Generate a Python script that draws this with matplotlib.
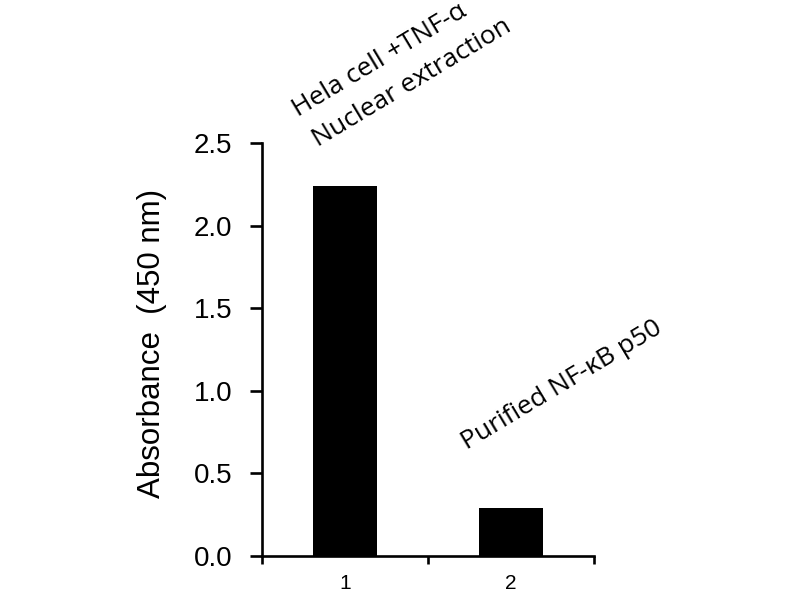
import matplotlib.pyplot as plt

categories = ['1', '2']
absorbance = [2.24, 0.29]
yticks = [0.0, 0.5, 1.0, 1.5, 2.0, 2.5]
sample_labels = ['Hela cell +TNF-\u03b1', 'Nuclear extraction', 'Purified NF-\u03baB p50']

plt.rcParams['font.family'] = ['Liberation Sans', 'DejaVu Sans']

fig = plt.figure(figsize=(8, 6), dpi=100)
ax = fig.add_axes([0.3275, 0.0733, 0.415, 0.6884])

xpos = [1, 2]
ax.bar(xpos, absorbance, width=0.39, color='black')

ax.set_xlim(0.5, 2.5)
ax.set_ylim(0, 2.5)
ax.set_yticks(yticks)
ax.set_yticklabels(['%.1f' % v for v in yticks])

# excel-like category ticks between bars, labels centred
ax.set_xticks([0.5, 1.5, 2.5])
ax.set_xticklabels([])
ax.set_xticks(xpos, minor=True)
ax.set_xticklabels(categories, minor=True)
ax.tick_params(axis='x', which='minor', length=0, pad=13, labelsize=15)
ax.tick_params(axis='x', which='major', direction='out', length=6, width=1.9)
ax.tick_params(axis='y', direction='out', length=8.5, width=1.9, pad=13, labelsize=20)

for s in ['top', 'right']:
    ax.spines[s].set_visible(False)
for s in ['left', 'bottom']:
    ax.spines[s].set_linewidth(1.9)

ax.set_ylabel('Absorbance  (450 nm)', fontsize=22.5, labelpad=16)
ax.yaxis.set_label_coords(-0.286, 0.515)

tfont = dict(family=['Open Sans', 'DejaVu Sans'], fontsize=19, rotation=31,
             rotation_mode='anchor', ha='left', va='baseline')
ax.text(0.717, 2.655, sample_labels[0], **tfont)
ax.text(0.837, 2.473, sample_labels[1], **tfont)
ax.text(1.735, 0.64, sample_labels[2], **tfont)

fig.savefig('out.png', dpi=100)
